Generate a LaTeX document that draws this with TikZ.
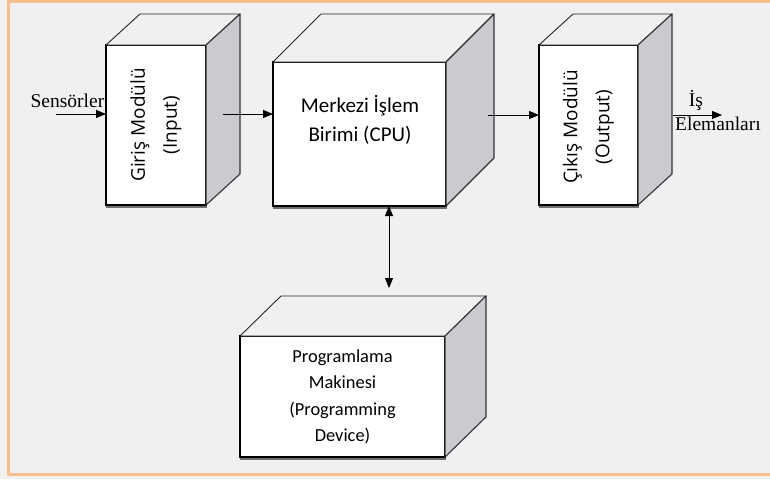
\documentclass[tikz,border=0pt]{standalone}
\usepackage{fontspec}
\setmainfont{Liberation Serif}
\newfontfamily\calfont{Carlito}
\newfontfamily\osfont{Open Sans}
\usetikzlibrary{arrows.meta}
\definecolor{bgc}{RGB}{240,239,241}
\definecolor{sidec}{RGB}{204,202,208}
\definecolor{framec}{RGB}{248,191,142}
\definecolor{shadowc}{RGB}{110,110,110}
\begin{document}
\begin{tikzpicture}[x=1pt,y=-1pt,
  front/.style={draw=black, fill=white, line width=1.3pt, inner sep=0pt, outer sep=0pt},
  topface/.style={draw=black!85, fill=bgc, line width=0.9pt, line join=round},
  sideface/.style={draw=black!80, fill=sidec, line width=1.1pt, line join=round},
  arr/.style={-{Triangle[length=10pt,width=8pt]}, line width=0.9pt},
  darr/.style={{Triangle[length=10pt,width=8pt]}-{Triangle[length=10pt,width=8pt]}, line width=0.9pt},
  serif/.style={inner sep=0pt, font=\fontsize{19.5}{22}\selectfont},
  rottext/.style={rotate=90, align=center, inner sep=0pt, font=\osfont\fontsize{19}{32}\selectfont},
  boxtext/.style={align=center, inner sep=0pt}
]
\useasboundingbox (0,0) rectangle (770,479);
\fill[bgc] (0,0) rectangle (770,479);
\draw[framec, line width=3.5pt] (8.5,1.5) rectangle (773,474.5);

% front faces
\node[front, minimum width=100, minimum height=160] (giris) at (156,125) {};
\node[front, minimum width=173, minimum height=144] (cpu) at (359.5,134) {};
\node[front, minimum width=99, minimum height=160] (cikis) at (588.5,125) {};
\node[front, minimum width=205, minimum height=121] (prog) at (342.5,396.5) {};

% shadows under the front faces
\foreach \n in {giris,cpu,cikis,prog}{
  \draw[shadowc, line width=1.6pt] ([yshift=-2.2pt]\n.south west) -- ([yshift=-2.2pt,xshift=1pt]\n.south east);
}

% top and side faces
\draw[topface] (giris.north west) -- ++(34,-31) -- ++(100,0) -- (giris.north east) -- cycle;
\draw[sideface] (giris.north east) -- ++(34,-31) -- ++(0,160) -- (giris.south east) -- cycle;

\draw[topface] (cpu.north west) -- ++(48,-48) -- ++(173,0) -- (cpu.north east) -- cycle;
\draw[sideface] (cpu.north east) -- ++(48,-48) -- ++(0,144) -- (cpu.south east) -- cycle;

\draw[topface] (cikis.north west) -- ++(34,-31) -- ++(99,0) -- (cikis.north east) -- cycle;
\draw[sideface] (cikis.north east) -- ++(34,-31) -- ++(0,160) -- (cikis.south east) -- cycle;

\draw[topface] (prog.north west) -- ++(41,-40) -- ++(205,0) -- (prog.north east) -- cycle;
\draw[sideface] (prog.north east) -- ++(41,-40) -- ++(0,121) -- (prog.south east) -- cycle;

% texts
\node[rottext] (giristext) at (156,125) {Giriş Modülü\\(Input)};
\node[rottext] (cikistext) at (588.5,127) {Çıkış Modülü\\(Output)};
\node[boxtext, font=\calfont\fontsize{21}{29}\selectfont] (cputext) at (360,120) {Merkezi İşlem\\Birimi (CPU)};
\node[boxtext, font=\calfont\fontsize{18.4}{26.5}\selectfont] (progtext) at (342.5,397) {Programlama\\Makinesi\\(Programming\\Device)};

\node[serif, anchor=base east] (sens) at (104.5,107) {Sensörler};
\node[serif, anchor=base] (is) at (696,106) {İş};
\node[serif, anchor=base west] (elem) at (675,130) {Elemanları};

% connectors
\coordinate (s0) at (56,114);
\draw[arr] (s0) -- (s0 -| giris.west);
\coordinate (a1) at (223,114);
\draw[arr] (a1) -- (a1 -| cpu.west);
\coordinate (a2) at (488,115);
\draw[arr] (a2) -- (a2 -| cikis.west);
\coordinate (a3) at (673,115);
\coordinate (e1) at (722,115);
\draw[arr] (a3) -- (e1);
\coordinate (v) at (389,288);
\draw[darr] (v |- cpu.south) -- (v);
\end{tikzpicture}
\end{document}
